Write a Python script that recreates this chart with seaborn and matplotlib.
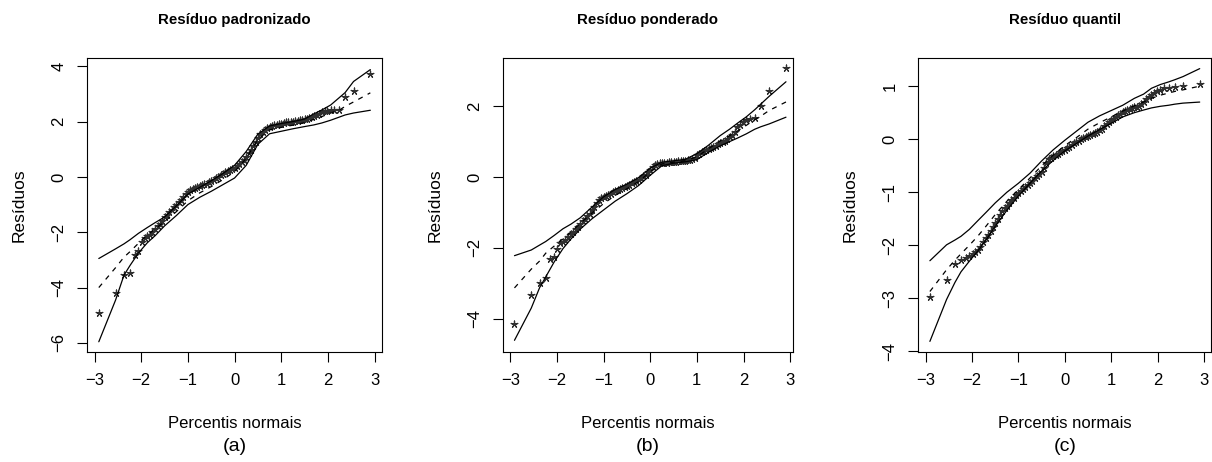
import matplotlib
matplotlib.use("Agg")
import matplotlib.pyplot as plt
import pandas as pd
import seaborn as sns

# ---------------- data ----------------
percentis = [
    -2.91, -2.55, -2.37, -2.24, -2.14, -2.06, -1.99, -1.93, -1.87, -1.82, -1.76,
    -1.70, -1.65, -1.60, -1.55, -1.50, -1.45, -1.40, -1.35, -1.30, -1.25,
    -1.20, -1.15, -1.10, -1.05, -1.00, -0.95, -0.90, -0.85, -0.80, -0.75,
    -0.70, -0.65, -0.60, -0.55, -0.50, -0.45, -0.40, -0.35, -0.30, -0.25,
    -0.20, -0.15, -0.10, -0.05, 0.00,
    0.05, 0.10, 0.15, 0.20, 0.25, 0.30, 0.35, 0.40, 0.45, 0.50,
    0.55, 0.60, 0.65, 0.70, 0.75, 0.80, 0.85, 0.90, 0.95, 1.00,
    1.05, 1.10, 1.15, 1.20, 1.25, 1.30, 1.35, 1.40, 1.45, 1.50,
    1.55, 1.60, 1.65, 1.70,
    1.76, 1.82, 1.87, 1.93, 1.99, 2.06, 2.14, 2.24, 2.37, 2.55, 2.91,
]

res_padronizado = [
    -4.92, -4.18, -3.55, -3.46, -2.83, -2.67, -2.35, -2.20, -2.14, -2.10, -2.00,
    -1.88, -1.79, -1.70, -1.58, -1.46, -1.36, -1.27, -1.18, -1.08, -1.00,
    -0.92, -0.84, -0.74, -0.62, -0.54, -0.48, -0.43, -0.40, -0.36, -0.33,
    -0.30, -0.27, -0.24, -0.20, -0.15, -0.10, -0.04, 0.01, 0.06, 0.11,
    0.16, 0.20, 0.24, 0.28, 0.32,
    0.38, 0.46, 0.54, 0.62, 0.72, 0.85, 0.98, 1.12, 1.28, 1.42,
    1.54, 1.64, 1.71, 1.76, 1.80, 1.84, 1.87, 1.89, 1.91, 1.93,
    1.95, 1.97, 1.98, 1.99, 2.00, 2.01, 2.02, 2.04, 2.06, 2.08,
    2.10, 2.13, 2.16, 2.19,
    2.24, 2.28, 2.33, 2.38, 2.40, 2.41, 2.41, 2.42, 2.89, 3.11, 3.73,
]

res_ponderado = [
    -4.14, -3.32, -2.99, -2.85, -2.30, -2.27, -2.03, -1.86, -1.82, -1.77, -1.70,
    -1.62, -1.56, -1.48, -1.40, -1.32, -1.25, -1.18, -1.11, -1.03, -0.94,
    -0.84, -0.74, -0.66, -0.60, -0.56, -0.53, -0.50, -0.47, -0.43, -0.40,
    -0.37, -0.34, -0.31, -0.28, -0.25, -0.22, -0.18, -0.15, -0.11, -0.07,
    -0.03, 0.02, 0.07, 0.13, 0.20,
    0.29, 0.35, 0.38, 0.39, 0.40, 0.40, 0.41, 0.42, 0.42, 0.43,
    0.43, 0.44, 0.44, 0.45, 0.46, 0.47, 0.49, 0.51, 0.55, 0.61,
    0.66, 0.70, 0.73, 0.76, 0.79, 0.82, 0.85, 0.88, 0.92, 0.95,
    0.99, 1.03, 1.07, 1.12,
    1.18, 1.28, 1.40, 1.48, 1.55, 1.62, 1.64, 1.67, 2.00, 2.42, 3.07,
]

res_quantil = [
    -2.98, -2.65, -2.35, -2.27, -2.24, -2.20, -2.16, -2.12, -2.08, -2.03, -1.94,
    -1.86, -1.80, -1.73, -1.66, -1.57, -1.50, -1.42, -1.35, -1.30, -1.25,
    -1.20, -1.15, -1.10, -1.06, -1.02, -0.98, -0.94, -0.90, -0.86, -0.82,
    -0.78, -0.74, -0.70, -0.66, -0.62, -0.55, -0.44, -0.38, -0.35, -0.32,
    -0.30, -0.27, -0.25, -0.22, -0.20,
    -0.17, -0.14, -0.11, -0.08, -0.05, -0.03, 0.00, 0.02, 0.04, 0.06,
    0.08, 0.10, 0.12, 0.14, 0.17, 0.20, 0.24, 0.28, 0.32, 0.36,
    0.39, 0.42, 0.45, 0.48, 0.51, 0.53, 0.55, 0.57, 0.58, 0.60,
    0.61, 0.63, 0.67, 0.71,
    0.75, 0.80, 0.84, 0.88, 0.91, 0.93, 0.96, 0.97, 0.99, 1.01, 1.04,
]

# simulated envelope (lower, mean, upper)
grade_env = [-2.91, -2.55, -2.37, -2.24, -2.06, -1.87, -1.70, -1.50, -1.25, -1.00,
             -0.75, -0.50, -0.25, 0.00, 0.25, 0.50, 0.75, 1.00, 1.25, 1.50,
             1.70, 1.87, 2.06, 2.24, 2.37, 2.55, 2.91]

pad_inf = [-5.96, -4.45, -3.55, -3.20, -2.75, -2.38, -2.12, -1.77, -1.40, -1.00,
           -0.74, -0.52, -0.28, -0.04, 0.42, 1.18, 1.56, 1.65, 1.74, 1.82,
           1.88, 1.95, 2.05, 2.16, 2.24, 2.31, 2.41]
pad_med = [-4.00, -3.28, -2.90, -2.70, -2.40, -2.10, -1.88, -1.61, -1.26, -0.86,
           -0.58, -0.35, -0.10, 0.19, 0.67, 1.36, 1.70, 1.79, 1.87, 1.96,
           2.08, 2.18, 2.31, 2.41, 2.55, 2.71, 3.04]
pad_sup = [-2.95, -2.60, -2.42, -2.27, -2.04, -1.83, -1.65, -1.45, -1.05, -0.62,
           -0.38, -0.14, 0.12, 0.42, 0.92, 1.55, 1.84, 1.93, 2.00, 2.09,
           2.28, 2.42, 2.60, 2.86, 3.05, 3.45, 3.88]

pon_inf = [-4.61, -3.70, -3.12, -2.82, -2.40, -2.02, -1.75, -1.47, -1.18, -0.93,
           -0.68, -0.47, -0.24, 0.05, 0.32, 0.39, 0.43, 0.49, 0.70, 0.88,
           1.00, 1.10, 1.22, 1.35, 1.42, 1.50, 1.69]
pon_med = [-3.13, -2.60, -2.37, -2.15, -1.95, -1.74, -1.55, -1.31, -1.02, -0.75,
           -0.52, -0.33, -0.13, 0.15, 0.37, 0.42, 0.46, 0.57, 0.80, 1.02,
           1.17, 1.30, 1.46, 1.62, 1.72, 1.88, 2.12]
pon_sup = [-2.22, -2.06, -1.92, -1.82, -1.65, -1.46, -1.33, -1.15, -0.85, -0.56,
           -0.35, -0.20, -0.02, 0.25, 0.42, 0.46, 0.50, 0.66, 0.90, 1.17,
           1.35, 1.52, 1.70, 1.90, 2.06, 2.28, 2.69]

qua_inf = [-3.81, -3.02, -2.70, -2.50, -2.30, -2.10, -1.90, -1.64, -1.34, -1.07,
           -0.83, -0.60, -0.40, -0.22, -0.08, 0.06, 0.18, 0.30, 0.42, 0.50,
           0.55, 0.59, 0.62, 0.64, 0.66, 0.68, 0.70]
qua_med = [-2.87, -2.46, -2.28, -2.16, -2.00, -1.82, -1.64, -1.42, -1.17, -0.95,
           -0.73, -0.50, -0.30, -0.12, 0.03, 0.19, 0.31, 0.42, 0.53, 0.63,
           0.70, 0.77, 0.83, 0.87, 0.90, 0.93, 1.00]
qua_sup = [-2.29, -1.99, -1.90, -1.83, -1.70, -1.53, -1.38, -1.20, -1.00, -0.83,
           -0.64, -0.41, -0.20, -0.02, 0.15, 0.32, 0.44, 0.54, 0.64, 0.77,
           0.85, 0.96, 1.03, 1.08, 1.12, 1.18, 1.33]

titulos = ["Resíduo padronizado", "Resíduo ponderado", "Resíduo quantil"]
rotulos = ["(a)", "(b)", "(c)"]
rotulo_x = "Percentis normais"
rotulo_y = "Resíduos"
ticks_x = [-3, -2, -1, 0, 1, 2, 3]
ticks_y = [[-6, -4, -2, 0, 2, 4], [-4, -2, 0, 2], [-4, -3, -2, -1, 0, 1]]

residuos = [res_padronizado, res_ponderado, res_quantil]
envelopes = [(pad_inf, pad_med, pad_sup), (pon_inf, pon_med, pon_sup),
             (qua_inf, qua_med, qua_sup)]

# ---------------- layout ----------------
W, H = 1212, 462
caixas = [(87.0, 57.7, 295.0, 294.3), (503.0, 57.7, 289.5, 294.3),
          (918.3, 57.7, 293.0, 294.3)]
lim_x = [(-3.163, 3.16), (-3.156, 3.05), (-3.16, 3.16)]
lim_y = [(-6.33, 4.31), (-4.94, 3.37), (-4.01, 1.536)]

sns.set_theme(style="white")
plt.rcParams['font.family'] = ['Liberation Sans', 'DejaVu Sans']
plt.rcParams['axes.unicode_minus'] = True

fig = plt.figure(figsize=(W / 100, H / 100), dpi=100)
fig.patch.set_facecolor("white")

for i in range(3):
    l, t, w, h = caixas[i]
    ax = fig.add_axes([l / W, 1 - (t + h) / H, w / W, h / H])
    ax.set_facecolor("white")

    df = pd.DataFrame({"x": percentis, "y": residuos[i]})
    sns.scatterplot(data=df, x="x", y="y", ax=ax, marker=(5, 2, 0), s=24,
                    color="#303030", linewidth=0.9, zorder=3)

    inf, med, sup = envelopes[i]
    sns.lineplot(x=grade_env, y=inf, ax=ax, color="black", lw=0.9,
                 estimator=None, sort=False, zorder=4)
    sns.lineplot(x=grade_env, y=sup, ax=ax, color="black", lw=0.9,
                 estimator=None, sort=False, zorder=4)
    sns.lineplot(x=grade_env, y=med, ax=ax, color="black", lw=0.9,
                 estimator=None, sort=False, zorder=4, linestyle=(0, (4, 4.5)))

    ax.set_xlim(*lim_x[i])
    ax.set_ylim(*lim_y[i])
    ax.set_xticks(ticks_x)
    ax.set_xticklabels([str(v).replace("-", "\u2212") for v in ticks_x])
    ax.set_yticks(ticks_y[i])
    ax.set_yticklabels([str(v).replace("-", "\u2212") for v in ticks_y[i]],
                       rotation=90, va="center")
    ax.set_xlabel("")
    ax.set_ylabel("")
    ax.tick_params(axis="both", direction="out", length=7, width=0.8,
                   color="black", labelsize=12, pad=8, labelcolor="black",
                   bottom=True, left=True, top=False, right=False)
    for sp in ax.spines.values():
        sp.set_visible(True)
        sp.set_color("black")
        sp.set_linewidth(0.8)

    cx = (l + w / 2) / W
    fig.text(cx, 1 - 24 / H, titulos[i], ha="center", va="baseline",
             fontsize=10.8, fontweight="bold", color="black")
    fig.text(cx, 1 - 428 / H, rotulo_x, ha="center", va="baseline",
             fontsize=12, color="black")
    fig.text(cx, 1 - 451 / H, rotulos[i], ha="center", va="baseline",
             fontsize=14, color="black")
    fig.text((l - 68) / W, 1 - (t + h / 2) / H, rotulo_y, ha="center",
             va="center", rotation=90, fontsize=12.5, color="black")

fig.savefig("out.png", dpi=100, facecolor="white")
